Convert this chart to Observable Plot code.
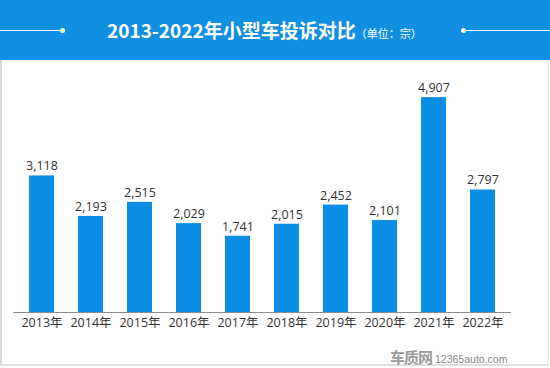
<!DOCTYPE html>
<html>
<head>
<meta charset="utf-8">
<script src="https://cdn.jsdelivr.net/npm/d3@7"></script>
<script src="https://cdn.jsdelivr.net/npm/@observablehq/plot@0.6"></script>
<style>
  html, body { margin: 0; padding: 0; background: #fff; }
  #page { position: relative; width: 550px; height: 368px; overflow: hidden; background: #fff;
    font-family: "Open Sans", "Noto Sans CJK SC", sans-serif; }
  #header { position: absolute; left: 0; top: 0; width: 550px; height: 60px; background: #1190e2; }
  #title { position: absolute; left: 107px; top: 15px; color: #fff; font-family: "Noto Sans CJK SC", sans-serif;
    font-weight: 700; font-size: 19px; line-height: 30px; white-space: nowrap; letter-spacing: 0; }
  #title .unit { font-size: 11px; font-weight: 400; letter-spacing: 0; margin-left: 0; }
  .line { position: absolute; top: 30px; height: 1px; background: #fff; }
  .dot { position: absolute; top: 28px; width: 5px; height: 5px; border-radius: 50%; background: #fff; }
  #panel { position: absolute; left: 0; top: 60px; width: 549px; height: 306px;
    border-left: 2px solid #d9d9d9; border-right: 1px solid #e3e3e3; border-bottom: 2px solid #e0e0e0; box-sizing: border-box; }
  #chart { position: absolute; left: 0; top: 60px; }
  #wm { position: absolute; left: 390px; top: 346px; color: #8a8a8a; white-space: nowrap; }
  #wm .logo { font-family: "Noto Sans CJK SC", sans-serif; font-weight: 700; font-size: 15px; color: #9a9a9a; letter-spacing: -1px; }
  #wm .url { font-family: "Liberation Sans", sans-serif; font-size: 10.5px; margin-left: 3px; }
</style>
</head>
<body>
<div id="page">
  <div id="header">
    <div class="line" style="left:0;width:62px"></div>
    <div class="dot" style="left:60px"></div>
    <div id="title">2013-2022年小型车投诉对比<span class="unit">（单位：宗）</span></div>
    <div class="dot" style="left:461px"></div>
    <div class="line" style="left:463px;width:87px"></div>
  </div>
  <div id="panel"></div>
  <div id="chart"></div>
  <div id="wm"><span class="logo">车质网</span><span class="url">12365auto.com</span></div>
</div>
<script>
const years = ["2013年","2014年","2015年","2016年","2017年","2018年","2019年","2020年","2021年","2022年"];
const complaints = [3118, 2193, 2515, 2029, 1741, 2015, 2452, 2101, 4907, 2797];
const data = years.map((y, i) => ({year: y, value: complaints[i]}));

const chart = Plot.plot({
  width: 550,
  height: 308,
  marginLeft: 13,
  marginRight: 39,
  marginTop: 33,
  marginBottom: 56,
  style: {fontFamily: '"Open Sans", "Noto Sans CJK SC", sans-serif', fontSize: "12px", color: "#333", background: "transparent"},
  x: {domain: years, paddingInner: 0.49, paddingOuter: 0.245, label: null, tickSize: 0, tickPadding: 6},
  y: {domain: [0, 5000], axis: null},
  marks: [
    Plot.barY(data, {x: "year", y: "value", fill: "#0b8fe6"}),
    Plot.ruleY([0], {stroke: "#8c8c8c", strokeWidth: 1}),
    Plot.text(data, {x: "year", y: "value", text: d => d3.format(",")(d.value), dy: -9.5, fill: "#333", fontSize: 12.5})
  ]
});
chart.querySelectorAll('[aria-label="x-axis tick label"] text').forEach(t => t.setAttribute("font-size", "12.5"));
document.getElementById("chart").appendChild(chart);
</script>
</body>
</html>
